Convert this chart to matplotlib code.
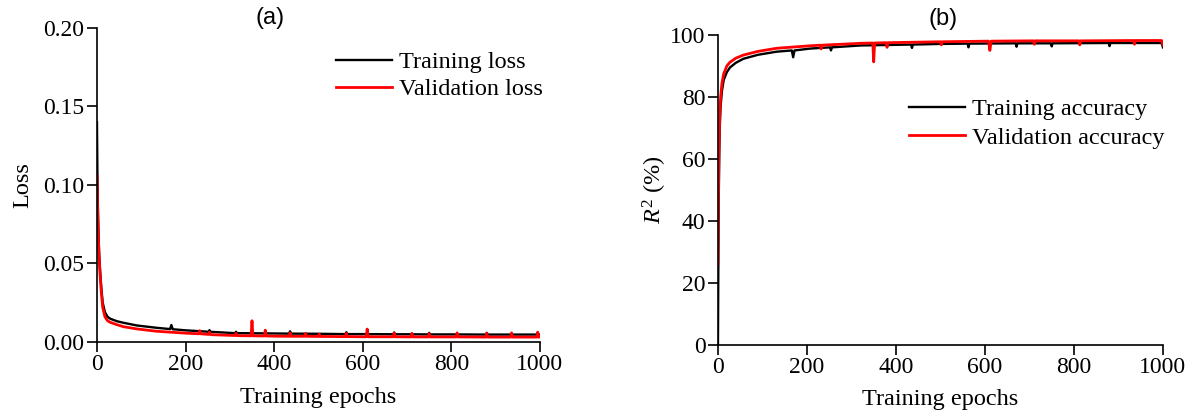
import matplotlib
matplotlib.use("Agg")
import matplotlib.pyplot as plt

# ---- data ----
loss_train_ep = [0, 1, 2, 3, 4, 5, 7, 10, 13, 18, 24, 30, 45, 60, 90, 135, 165, 168, 171, 200,
                 252, 254, 256, 260, 312, 314, 316, 322, 400, 434, 436, 438, 500, 561, 563, 565,
                 600, 669, 671, 673, 700, 748, 750, 752, 800, 878, 880, 882, 900, 1000]
loss_train = [0.140, 0.108, 0.088, 0.074, 0.064, 0.056, 0.046, 0.034, 0.025, 0.019,
              0.0160, 0.0148, 0.0132, 0.0122, 0.0105, 0.0090, 0.0082, 0.0108, 0.0081, 0.0074,
              0.0065, 0.0075, 0.0065, 0.0064, 0.0056, 0.0065, 0.0056, 0.0056, 0.0054, 0.0053,
              0.0068, 0.0053, 0.0052, 0.0050, 0.0062, 0.0050, 0.0050, 0.0049, 0.0060, 0.0049,
              0.0049, 0.0048, 0.0058, 0.0048, 0.0048, 0.0047, 0.0058, 0.0047, 0.0047, 0.0047]

loss_val_ep = [0, 1, 2, 3, 4, 5, 7, 10, 13, 18, 24, 30, 45, 60, 90, 135, 200, 230, 232, 234,
               252, 254, 256, 260, 312, 314, 316, 322, 348, 350, 352, 378, 380, 382, 400, 434,
               436, 438, 469, 471, 473, 500, 502, 504, 561, 563, 565, 600, 608, 610, 612, 669,
               671, 673, 709, 711, 713, 748, 750, 752, 800, 811, 813, 815, 878, 880, 882, 934,
               936, 938, 993, 995, 997, 1000]
loss_val = [0.106, 0.092, 0.079, 0.068, 0.060, 0.053, 0.043, 0.031, 0.022, 0.0160,
            0.0135, 0.0125, 0.0110, 0.0097, 0.0083, 0.0068, 0.0056, 0.0052, 0.0072, 0.0052,
            0.0048, 0.0062, 0.0048, 0.0046, 0.0041, 0.0055, 0.0041, 0.0040, 0.0039, 0.0135,
            0.0039, 0.0038, 0.0075, 0.0038, 0.0037, 0.0036, 0.0058, 0.0036, 0.0036, 0.0055,
            0.0036, 0.0035, 0.0050, 0.0035, 0.0034, 0.0055, 0.0034, 0.0033, 0.0033, 0.0082,
            0.0033, 0.0033, 0.0058, 0.0033, 0.0032, 0.0055, 0.0032, 0.0032, 0.0053, 0.0032,
            0.0032, 0.0032, 0.0058, 0.0032, 0.0031, 0.0055, 0.0031, 0.0031, 0.0058, 0.0031,
            0.0031, 0.0062, 0.0031, 0.0031]

acc_train_ep = [0, 1, 2, 3, 4, 6, 9, 13, 20, 27, 40, 57, 90, 132, 166, 169, 172, 207, 252, 254,
                256, 320, 434, 436, 438, 500, 561, 563, 565, 669, 671, 673, 700, 748, 750, 752,
                878, 880, 882, 997, 1000]
acc_train = [0, 30, 50, 62, 70, 77, 82, 85.5, 88, 89.5, 91, 92.3, 93.6, 94.6, 95.0, 92.8, 95.0,
             95.6, 96.0, 95.0, 96.0, 96.6, 96.9, 95.8, 96.9, 97.1, 97.2, 96.0, 97.2, 97.3, 96.2,
             97.3, 97.3, 97.3, 96.3, 97.3, 97.4, 96.4, 97.4, 97.4, 96.0]

acc_val_ep = [0, 1, 2, 3, 4, 6, 9, 13, 20, 27, 40, 57, 90, 132, 207, 230, 232, 234, 320, 348,
              350, 352, 378, 380, 382, 500, 502, 504, 608, 611, 614, 709, 711, 713, 811, 813,
              815, 934, 936, 938, 997, 1000]
acc_val = [26, 45, 60, 68, 74, 80, 84.5, 87.5, 90, 91.2, 92.5, 93.5, 94.7, 95.7, 96.5, 96.7, 95.5,
           96.7, 97.3, 97.4, 91.3, 97.4, 97.5, 96.0, 97.5, 97.8, 96.8, 97.8, 98.0, 95.0, 98.0,
           98.1, 97.0, 98.1, 98.1, 96.8, 98.1, 98.2, 97.0, 98.2, 98.2, 96.8]

FS = 17.5
TICK_FS = 17
plt.rcParams["font.family"] = "Liberation Serif"
plt.rcParams["mathtext.fontset"] = "custom"
plt.rcParams["mathtext.rm"] = "Liberation Serif"
plt.rcParams["mathtext.it"] = "Liberation Serif:italic"
plt.rcParams["font.size"] = FS

fig = plt.figure(figsize=(11.94, 4.16), dpi=100)
ax1 = fig.add_axes([0.0812, 0.178, 0.371, 0.755])
ax2 = fig.add_axes([0.6013, 0.171, 0.3727, 0.745])


def style_axis(ax):
    for side in ["top", "right"]:
        ax.spines[side].set_visible(False)
    for side in ["left", "bottom"]:
        ax.spines[side].set_linewidth(1.2)
    ax.tick_params(direction="out", length=7, width=1.2, pad=2, labelsize=TICK_FS)
    ax.set_xlim(0, 1000)
    ax.set_xticks([0, 200, 400, 600, 800, 1000])
    ax.set_xlabel("Training epochs", labelpad=8)


# (a) loss
ax1.plot(loss_train_ep, loss_train, color="black", lw=1.7, label="Training loss")
ax1.plot(loss_val_ep, loss_val, color="red", lw=2.0, label="Validation loss")
style_axis(ax1)
ax1.set_ylim(0, 0.20)
ax1.set_yticks([0.00, 0.05, 0.10, 0.15, 0.20])
ax1.set_yticklabels(["0.00", "0.05", "0.10", "0.15", "0.20"])
ax1.set_ylabel("Loss", labelpad=7)
ax1.legend(loc="upper left", bbox_to_anchor=(0.54, 0.925), frameon=False,
           handlelength=2.3, handletextpad=0.3, labelspacing=0.2,
           borderpad=0, borderaxespad=0)
ax1.text(0.39, 1.03, "(a)", transform=ax1.transAxes, ha="center", va="center",
         family="Liberation Sans", fontsize=17)

# (b) R^2
ax2.plot(acc_train_ep, acc_train, color="black", lw=1.7, label="Training accuracy")
ax2.plot(acc_val_ep, acc_val, color="red", lw=2.0, label="Validation accuracy")
style_axis(ax2)
ax2.set_ylim(0, 100)
ax2.set_yticks([0, 20, 40, 60, 80, 100])
ax2.set_ylabel("$R^2$ (%)", labelpad=1)
ax2.legend(loc="upper left", bbox_to_anchor=(0.43, 0.795), frameon=False,
           handlelength=2.3, handletextpad=0.3, labelspacing=0.25,
           borderpad=0, borderaxespad=0)
ax2.text(0.506, 1.05, "(b)", transform=ax2.transAxes, ha="center", va="center",
         family="Liberation Sans", fontsize=17)

fig.savefig("out.png", dpi=100)
